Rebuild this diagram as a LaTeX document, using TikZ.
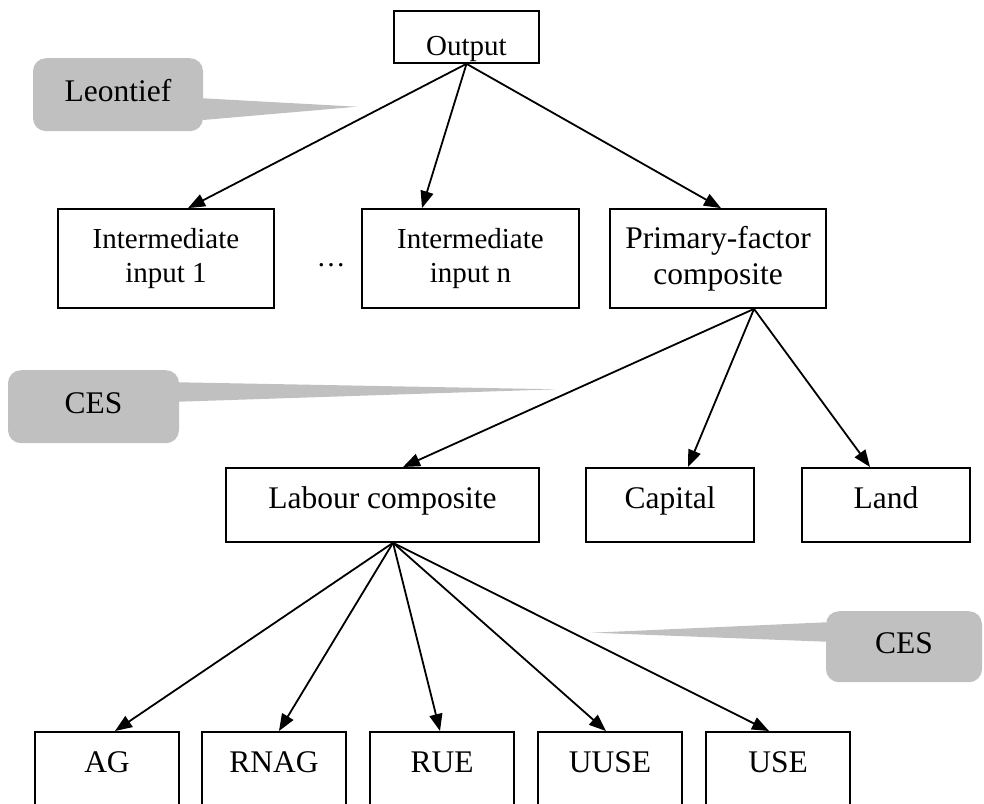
\documentclass[tikz,border=0pt]{standalone}
\usepackage{fontspec}
\setmainfont{Liberation Serif}
\usetikzlibrary{arrows.meta}
\definecolor{callgray}{HTML}{C0C0C0}
\begin{document}
\begin{tikzpicture}[x=1pt,y=-1pt,
  box/.style={draw, line width=1.8pt, fill=white, inner sep=0pt, align=center},
  bigtext/.style={font=\fontsize{31.5}{36}\selectfont},
  smalltext/.style={font=\fontsize{29}{34}\selectfont},
  callout/.style={fill=callgray, rounded corners=13pt, inner sep=0pt, font=\fontsize{31.5}{36}\selectfont},
  arr/.style={-{Triangle[length=17pt,width=13pt]}, line width=1.8pt}
]
\useasboundingbox (0,0) rectangle (984,803);
\clip (0,0) rectangle (984,803);

% top
\node[box, smalltext, minimum width=145pt, text height=45pt, text depth=7pt] (out) at (466.5,10) [anchor=north] {Output};

% callouts
\node[callout, minimum width=170pt, text height=43.7pt, text depth=29.3pt] (leo) at (118,58) [anchor=north] {Leontief};
\coordinate (leotip) at (357,106.7);
\fill[callgray] (203,98.3) -- (leotip) -- (203,120) -- cycle;

\node[callout, minimum width=171pt, text height=43pt, text depth=30pt] (ces1) at (93.5,370) [anchor=north] {CES};
\coordinate (ces1tip) at (556,389.3);
\fill[callgray] (179,382.3) -- (ces1tip) -- (179,401.7) -- cycle;

\node[callout, minimum width=156pt, text height=42pt, text depth=29pt] (ces2) at (904,611) [anchor=north] {CES};
\coordinate (ces2tip) at (592,632.7);
\fill[callgray] (826,622.3) -- (ces2tip) -- (826,641.7) -- cycle;

% middle row
\node[box, smalltext, minimum width=216pt, minimum height=99pt] (i1) at (166,258.5) {Intermediate\\input 1};
\node[smalltext, inner sep=0pt] (dots) at (331,265) {…};
\node[box, smalltext, minimum width=217pt, minimum height=99pt] (in) at (470.5,258.5) {Intermediate\\input n};
\node[box, bigtext, minimum width=216pt, minimum height=99pt] (pf) at (718,258.5) {Primary-factor\\composite};

% third row
\node[box, bigtext, minimum width=313pt, text height=41pt, text depth=33pt] (lab) at (382.5,467) [anchor=north] {Labour composite};
\node[box, bigtext, minimum width=168pt, text height=41pt, text depth=33pt] (cap) at (670,467) [anchor=north] {Capital};
\node[box, bigtext, minimum width=168pt, text height=41pt, text depth=33pt] (land) at (886,467) [anchor=north] {Land};

% bottom row
\node[box, bigtext, minimum width=144pt, text height=41pt, text depth=55pt] (ag) at (107,731) [anchor=north] {AG};
\node[box, bigtext, minimum width=144pt, text height=41pt, text depth=55pt] (rnag) at (274,731) [anchor=north] {RNAG};
\node[box, bigtext, minimum width=144pt, text height=41pt, text depth=55pt] (rue) at (442,731) [anchor=north] {RUE};
\node[box, bigtext, minimum width=144pt, text height=41pt, text depth=55pt] (uuse) at (610,731) [anchor=north] {UUSE};
\node[box, bigtext, minimum width=144pt, text height=41pt, text depth=55pt] (use) at (778,731) [anchor=north] {USE};

% arrows
\draw[arr] (out.south) -- ([xshift=22pt]i1.north);
\draw[arr] (out.south) -- ([xshift=-48.5pt]in.north);
\draw[arr] (out.south) -- ([xshift=3pt]pf.north);

\draw[arr] ([xshift=36pt]pf.south) -- ([xshift=20.5pt]lab.north);
\draw[arr] ([xshift=36pt]pf.south) -- ([xshift=18pt]cap.north);
\draw[arr] ([xshift=36pt]pf.south) -- ([xshift=-16pt]land.north);

\draw[arr] ([xshift=10.5pt]lab.south) -- ([xshift=8pt]ag.north);
\draw[arr] ([xshift=10.5pt]lab.south) -- ([xshift=5pt]rnag.north);
\draw[arr] ([xshift=10.5pt]lab.south) -- ([xshift=-2pt]rue.north);
\draw[arr] ([xshift=10.5pt]lab.south) -- ([xshift=-4pt]uuse.north);
\draw[arr] ([xshift=10.5pt]lab.south) -- ([xshift=-9pt]use.north);
\end{tikzpicture}
\end{document}
